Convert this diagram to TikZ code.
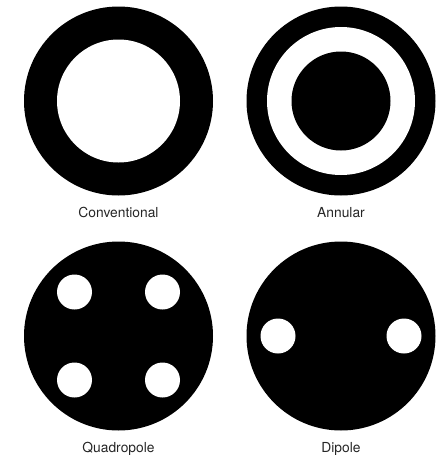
\documentclass[tikz,border=0pt]{standalone}
\usepackage{fontspec}
\setmainfont{TeX Gyre Heros}
\usetikzlibrary{positioning}

\begin{document}
\begin{tikzpicture}[x=1pt, y=-1pt,
  disc/.style={circle, fill=black, inner sep=0pt, minimum size=189pt},
  ring/.style={circle, fill=white, inner sep=0pt},
  hole/.style={circle, fill=white, inner sep=0pt, minimum size=35pt},
  caption/.style={anchor=base, text=black!85, font=\fontsize{13.8}{16}\selectfont}]

\useasboundingbox (0,0) rectangle (439,456);

% conventional
\node[disc] (C) at (118.5,101) {};
\node[ring, minimum size=123pt] (Cin) at (C.center) {};
\node[caption] (Clab) at (118.5,217) {Conventional};

% annular
\node[disc] (A) at (341,101) {};
\node[ring, minimum size=148pt] (Aring) at (A.center) {};
\node[disc, minimum size=99pt] (Ain) at (A.center) {};
\node[caption] (Alab) at (341,217) {Annular};

% quadropole
\node[disc] (Q) at (118.5,336) {};
\foreach \i/\dx/\dy in {1/-44/-44,2/44/-44,3/-44/44,4/44/44} {
  \node[hole] (Q\i) at (118.5+\dx,336+\dy) {};
}
\node[caption] (Qlab) at (118.5,452) {Quadropole};

% dipole
\node[disc] (D) at (341,336) {};
\foreach \i/\dx in {1/-63,2/63} {
  \node[hole] (D\i) at (341+\dx,336) {};
}
\node[caption] (Dlab) at (341,452) {Dipole};

\end{tikzpicture}
\end{document}
